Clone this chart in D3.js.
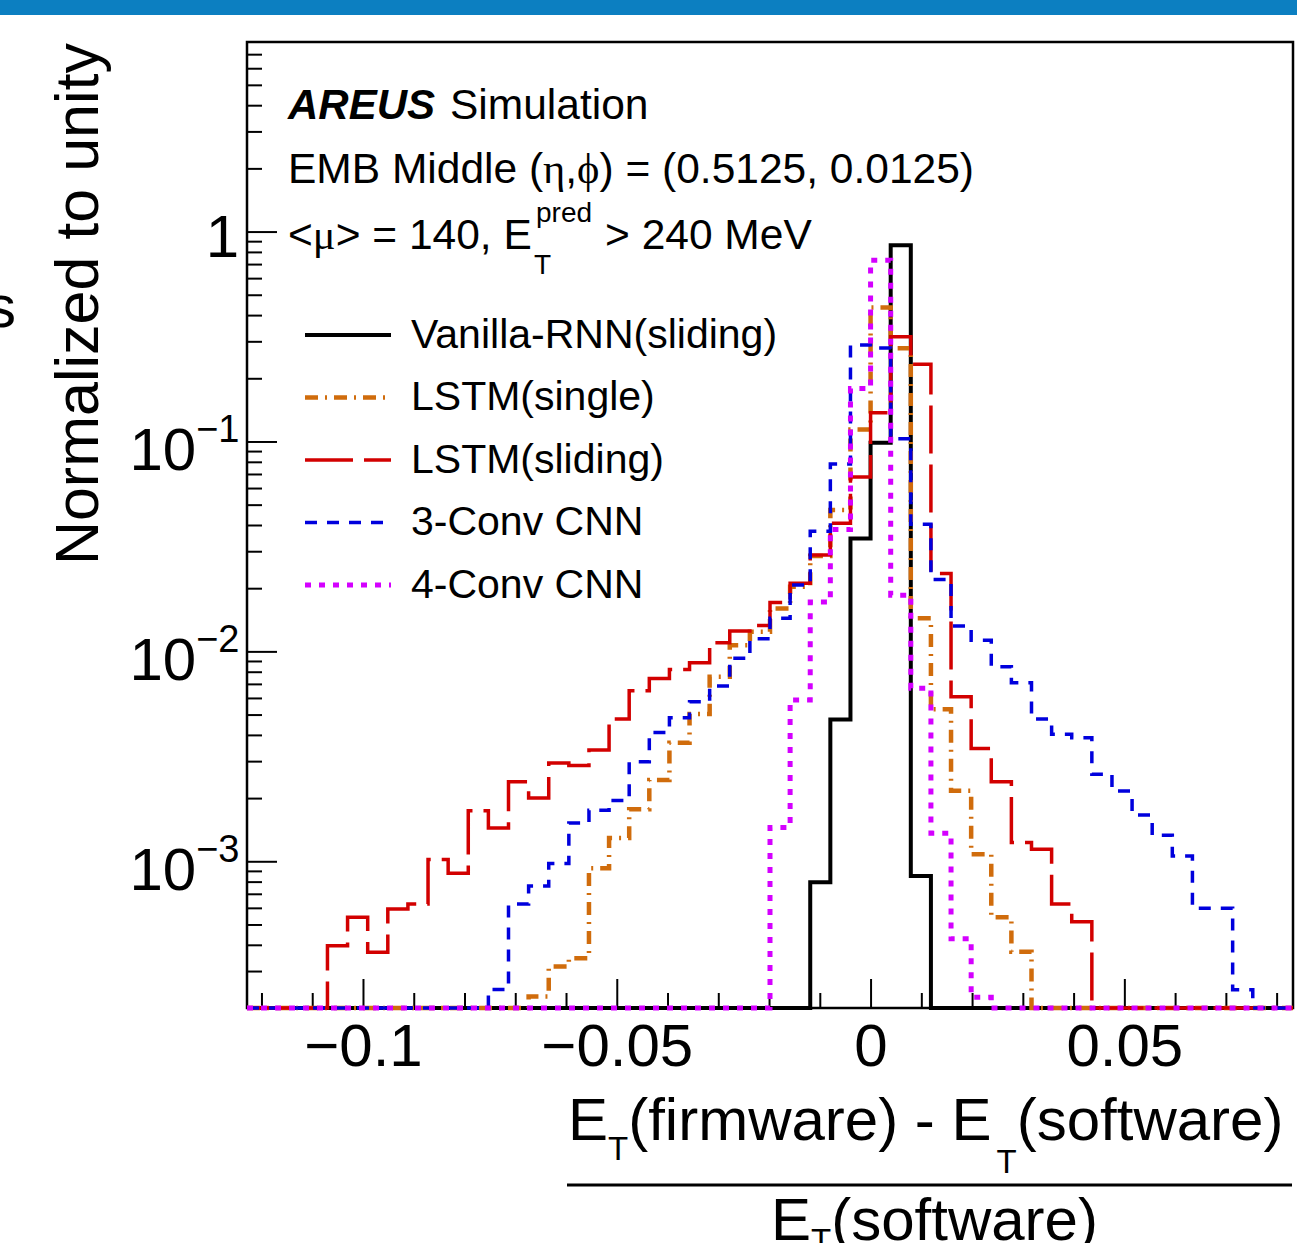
<!DOCTYPE html>
<html><head><meta charset="utf-8">
<script src="https://cdn.jsdelivr.net/npm/d3@7"></script>
<style>html,body{margin:0;padding:0;background:#fff;overflow:hidden}</style>
</head><body>
<svg id="c" width="1297" height="1243"></svg>
<script>
// ---- binning ----
const histMin = -0.12285;
const binWidth = 0.003963;
const nBins = 52;
const yMin = 2e-4, yMax = 8;

// ---- series values (one value per bin, 52 bins, 0 = empty) ----
const vanillaRNN = [0,0,0,0,0,0,0,0,0,0, 0,0,0,0,0,0,0,0,0,0, 0,0,0,0,0,0,0,0,
  7.94e-4, 4.74e-3, 3.45e-2, 9.85e-2, 0.86, 8.51e-4,
  0,0,0,0,0,0,0,0,0,0, 0,0,0,0,0,0,0,0];
const lstmSingle = [0,0,0,0,0,0,0,0,0,0, 0,0,0,0,
  2.27e-4, 3.15e-4, 3.45e-4, 9.27e-4, 1.29e-3, 1.77e-3, 2.44e-3, 3.67e-3, 5.03e-3, 7.57e-3,
  1.07e-2, 1.24e-2, 1.60e-2, 2.03e-2, 2.85e-2, 4.71e-2, 0.114,
  0.435, 0.278, 1.44e-2, 5.3e-3, 2.17e-3, 1.08e-3, 5.41e-4, 3.71e-4,
  0,0,0,0,0,0,0,0,0,0, 0,0,0];
const lstmSliding = [0,0,0,0,
  3.96e-4, 5.41e-4, 3.69e-4, 5.93e-4, 6.26e-4, 1.02e-3, 8.77e-4, 1.74e-3, 1.44e-3, 2.39e-3,
  2.0e-3, 2.94e-3, 2.86e-3, 3.39e-3, 4.76e-3, 6.49e-3, 7.43e-3, 8.2e-3, 8.83e-3, 1.10e-2,
  1.25e-2, 1.33e-2, 1.71e-2, 2.11e-2, 2.88e-2, 4.08e-2, 6.78e-2,
  0.137, 0.315, 0.233, 2.35e-2, 6.08e-3, 3.45e-3, 2.39e-3, 1.23e-3, 1.14e-3, 6.26e-4, 5.15e-4,
  0,0,0,0,0,0,0,0,0,0];
const conv3 = [0,0,0,0,0,0,0,0,0,0, 0,0,
  2.45e-4, 6.26e-4, 7.62e-4, 9.77e-4, 1.52e-3, 1.75e-3, 1.95e-3, 2.98e-3, 4.11e-3, 4.83e-3,
  5.75e-3, 6.84e-3, 9.27e-3, 1.15e-2, 1.44e-2, 2.07e-2, 3.73e-2, 7.8e-2, 0.288,
  0.279, 0.103, 4.03e-2, 2.2e-2, 1.32e-2, 1.13e-2, 8.45e-3, 7.09e-3, 4.76e-3, 4.03e-3,
  3.88e-3, 2.6e-3, 2.16e-3, 1.66e-3, 1.33e-3, 1.06e-3, 5.97e-4, 5.97e-4, 2.44e-4,
  0,0];
const conv4 = [0,0,0,0,0,0,0,0,0,0, 0,0,0,0,0,0,0,0,0,0, 0,0,0,0,0,0,
  1.45e-3, 5.86e-3, 1.72e-2, 3.81e-2, 0.179, 0.73, 1.85e-2, 6.67e-3, 1.36e-3, 4.27e-4, 2.25e-4,
  0,0,0,0,0,0,0,0,0,0, 0,0,0,0,0];

const seriesNames = ["Vanilla-RNN(sliding)", "LSTM(single)", "LSTM(sliding)", "3-Conv CNN", "4-Conv CNN"];

// ---- ticks ----
const xMajorTicks = [-0.1, -0.05, 0, 0.05];
const xTickLabels = ["\u22120.1", "\u22120.05", "0", "0.05"];
const xMinorTicks = [-0.12,-0.11,-0.09,-0.08,-0.07,-0.06,-0.04,-0.03,-0.02,-0.01,0.01,0.02,0.03,0.04,0.06,0.07,0.08];
const yMajorTicks = [1e-3, 1e-2, 1e-1, 1];
const yTickBase = ["10", "10", "10", "1"];
const yTickExp = ["\u22123", "\u22122", "\u22121", ""];
const yMinorTicks = [3e-4,4e-4,5e-4,6e-4,7e-4,8e-4,9e-4,
  2e-3,3e-3,4e-3,5e-3,6e-3,7e-3,8e-3,9e-3,
  2e-2,3e-2,4e-2,5e-2,6e-2,7e-2,8e-2,9e-2,
  0.2,0.3,0.4,0.5,0.6,0.7,0.8,0.9, 2,3,4,5,6,7];

// ---- styles ----
const FONT = "'Liberation Sans', Arial, Helvetica, sans-serif";
const SERIF = "'Liberation Serif', 'DejaVu Serif', serif";
const seriesStyle = [
  {color:"#000000", width:4,   dash:null},
  {color:"#d06c0c", width:4.5, dash:"13,7,2,7"},
  {color:"#d20000", width:3.5, dash:"48,11"},
  {color:"#0000dd", width:3.5, dash:"12,10"},
  {color:"#d400ff", width:5,   dash:"6,8"}
];
const F = {left:247, right:1293, top:42, bottom:1008};

const svg = d3.select("#c");
svg.append("rect").attr("x",0).attr("y",0).attr("width",1297).attr("height",1243).attr("fill","#fff");
svg.append("rect").attr("x",0).attr("y",0).attr("width",1297).attr("height",15).attr("fill","#0c7fc1");

const x = d3.scaleLinear().domain([histMin, histMin + nBins*binWidth]).range([F.left, F.right]);
const y = d3.scaleLog().domain([yMin, yMax]).range([F.bottom, F.top]);

// frame
svg.append("rect").attr("x",F.left).attr("y",F.top).attr("width",F.right-F.left).attr("height",F.bottom-F.top)
  .attr("fill","none").attr("stroke","#000").attr("stroke-width",2.5);

// y axis ticks
function tickStyle(g){ g.select(".domain").remove(); g.selectAll("line").attr("stroke","#000").attr("stroke-width",2); }
svg.append("g").attr("transform",`translate(${F.left},0)`)
  .call(d3.axisLeft(y).tickValues(yMinorTicks).tickSize(-15).tickFormat(""))
  .call(tickStyle);
svg.append("g").attr("transform",`translate(${F.left},0)`)
  .call(d3.axisLeft(y).tickValues(yMajorTicks).tickSize(-30).tickFormat(""))
  .call(tickStyle);

// y tick labels
yMajorTicks.forEach((v,i)=>{
  const yy = y(v);
  if (yTickExp[i]) {
    const t = svg.append("text").attr("x",239.5).attr("y",yy+28.5).attr("text-anchor","end")
      .attr("font-family",FONT).attr("font-size",60);
    t.append("tspan").text(yTickBase[i]);
    t.append("tspan").attr("font-size",38).attr("dy",-28).text(yTickExp[i]);
  } else {
    svg.append("text").attr("x",239).attr("y",yy+25.5).attr("text-anchor","end")
      .attr("font-family",FONT).attr("font-size",60).text(yTickBase[i]);
  }
});

// x axis ticks + labels
svg.append("g").attr("transform",`translate(0,${F.bottom})`)
  .call(d3.axisBottom(x).tickValues(xMinorTicks).tickSize(-15).tickFormat(""))
  .call(tickStyle);
const xa = svg.append("g").attr("transform",`translate(0,${F.bottom})`)
  .call(d3.axisBottom(x).tickValues(xMajorTicks).tickSize(-29).tickPadding(15)
     .tickFormat((d,i)=>xTickLabels[i]))
  .call(tickStyle);
xa.attr("font-family",FONT).attr("font-size",60);
xa.selectAll("text").attr("fill","#000");

// histograms
svg.append("clipPath").attr("id","fr").append("rect")
  .attr("x",F.left).attr("y",0).attr("width",F.right-F.left).attr("height",F.bottom+10);
const line = d3.line().x(d=>x(d[0])).y(d=>y(Math.max(d[1], yMin)));
function stepPoints(vals){
  const pts = [];
  vals.forEach((v,i)=>{ const x0 = histMin + i*binWidth; pts.push([x0,v],[x0+binWidth,v]); });
  return pts;
}
const hg = svg.append("g").attr("clip-path","url(#fr)");
[vanillaRNN, lstmSingle, lstmSliding, conv3, conv4].forEach((vals,i)=>{
  const s = seriesStyle[i];
  hg.append("path").attr("d", line(stepPoints(vals)))
    .attr("fill","none").attr("stroke",s.color).attr("stroke-width",s.width)
    .attr("stroke-dasharray", s.dash).attr("stroke-linejoin","miter");
});

// header texts
const t1 = svg.append("text").attr("x",288).attr("y",119).attr("font-family",FONT).attr("font-size",42);
t1.append("tspan").attr("font-weight","bold").attr("font-style","italic").text("AREUS");
svg.append("text").attr("x",450).attr("y",119).attr("font-family",FONT).attr("font-size",42.5).text("Simulation");
const t2 = svg.append("text").attr("x",288).attr("y",183).attr("font-family",FONT).attr("font-size",42.5);
t2.append("tspan").text("EMB Middle (");
t2.append("tspan").attr("font-family",SERIF).text("\u03B7");
t2.append("tspan").text(",");
t2.append("tspan").attr("font-family",SERIF).text("\u03D5");
t2.append("tspan").text(") = (0.5125, 0.0125)");
const t3 = svg.append("text").attr("x",288).attr("y",249).attr("font-family",FONT).attr("font-size",42.5);
t3.append("tspan").text("<");
t3.append("tspan").attr("font-family",SERIF).text("\u03BC");
t3.append("tspan").text("> = 140, E");
svg.append("text").attr("x",536).attr("y",222).attr("font-family",FONT).attr("font-size",28).text("pred");
svg.append("text").attr("x",534).attr("y",274).attr("font-family",FONT).attr("font-size",28).text("T");
svg.append("text").attr("x",605).attr("y",249).attr("font-family",FONT).attr("font-size",42.5).text("> 240 MeV");

// legend
seriesNames.forEach((n,i)=>{
  const ry = 335 + i*62.5, s = seriesStyle[i];
  svg.append("line").attr("x1",305).attr("x2",391).attr("y1",ry).attr("y2",ry)
    .attr("stroke",s.color).attr("stroke-width",s.width).attr("stroke-dasharray",s.dash);
  svg.append("text").attr("x",411).attr("y",ry+12.5).attr("font-family",FONT).attr("font-size",41).text(n);
});

// y title
svg.append("text").attr("transform","translate(98,43) rotate(-90)").attr("text-anchor","end")
  .attr("font-family",FONT).attr("font-size",61).text("Normalized to unity");
// clipped glyph at left edge
svg.append("text").attr("x",-14).attr("y",327).attr("font-family",FONT).attr("font-size",60).text("s");

// x title (fraction)
const num = svg.append("text").attr("x",568).attr("y",1140).attr("font-family",FONT).attr("font-size",60);
num.append("tspan").text("E");
num.append("tspan").attr("font-size",33).attr("dy",20).text("T");
num.append("tspan").attr("font-size",60).attr("dy",-20).text("(firmware) - E");
num.append("tspan").attr("font-size",33).attr("dy",33).attr("dx",5).text("T");
num.append("tspan").attr("font-size",60).attr("dy",-33).text("(software)");
svg.append("line").attr("x1",567).attr("x2",1292).attr("y1",1185).attr("y2",1185).attr("stroke","#000").attr("stroke-width",3);
const den = svg.append("text").attr("x",771).attr("y",1240).attr("font-family",FONT).attr("font-size",60);
den.append("tspan").text("E");
den.append("tspan").attr("font-size",33).attr("dy",11.5).text("T");
den.append("tspan").attr("font-size",60).attr("dy",-11.5).text("(software)");
</script>
</body></html>
